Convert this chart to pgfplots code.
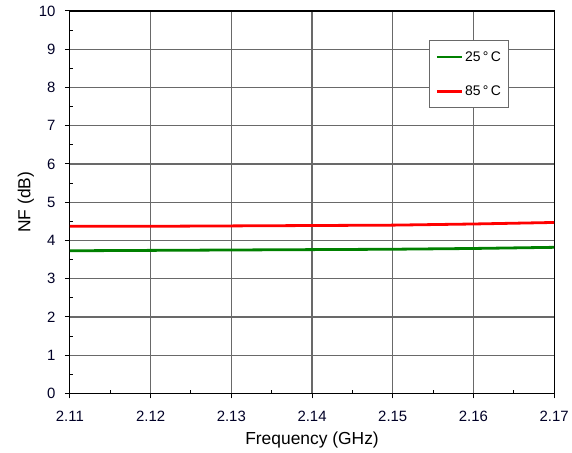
\documentclass[border=0pt]{standalone}
\usepackage{fontspec}
\setmainfont{Liberation Sans}
\usepackage{pgfplots}
\pgfplotsset{compat=1.18}
\definecolor{gridgray}{RGB}{105,105,105}
\definecolor{mygreen}{RGB}{0,128,0}
\begin{document}
\begin{tikzpicture}
\begin{axis}[
  name=ax,
  scale only axis,
  width=485bp, height=383bp,
  xmin=2.11, xmax=2.17, ymin=0, ymax=10,
  xtick={2.11,2.12,2.13,2.14,2.15,2.16,2.17},
  ytick={0,1,...,10},
  minor x tick num=1, minor y tick num=1,
  xtick pos=left, ytick pos=left,
  tick align=outside,
  major tick length=5bp, minor tick length=3bp,
  minor x tick style={yshift=3bp},
  minor y tick style={xshift=3bp},
  x tick label style={/pgf/number format/fixed, /pgf/number format/fixed zerofill, /pgf/number format/precision=2, yshift=-9bp},
  y tick label style={xshift=-6bp},
  /pgf/number format/assume math mode=true,
  scaled x ticks=false,
  grid=major,
  major grid style={gridgray, line width=1.2pt},
  axis line style={black, line width=1.2pt},
  every tick/.style={black, line width=1pt},
  tick label style={font=\fontsize{15}{17}\selectfont, color=black!85!blue},
  label style={font=\fontsize{17.5}{20}\selectfont},
  xlabel={Frequency (GHz)},
  ylabel={NF (dB)},
  xlabel style={yshift=-4bp},
  ylabel style={yshift=-2bp},
  legend style={at={(0.742,0.924)}, anchor=north west, draw=gridgray, line width=1pt,
    font=\fontsize{14}{16}\selectfont, inner xsep=6bp, inner ysep=9bp, row sep=19bp,
    cells={anchor=west}},
  legend image code/.code={\draw[#1, line width=2.5bp] (0bp,0bp) -- (25bp,0bp);},
]
\addplot[mygreen, line width=2.8bp] coordinates {
 (2.11,3.73) (2.12,3.74) (2.13,3.75) (2.14,3.76) (2.15,3.77) (2.16,3.79) (2.17,3.82)};
\addlegendentry{25\,°\,C}
\addplot[red, line width=2.8bp] coordinates {
 (2.11,4.37) (2.12,4.37) (2.13,4.38) (2.14,4.39) (2.15,4.40) (2.16,4.43) (2.17,4.47)};
\addlegendentry{85\,°\,C}
\end{axis}
\path ([xshift=-70bp,yshift=-59bp]ax.south west) rectangle ([xshift=17bp,yshift=11bp]ax.north east);
\end{tikzpicture}
\end{document}
